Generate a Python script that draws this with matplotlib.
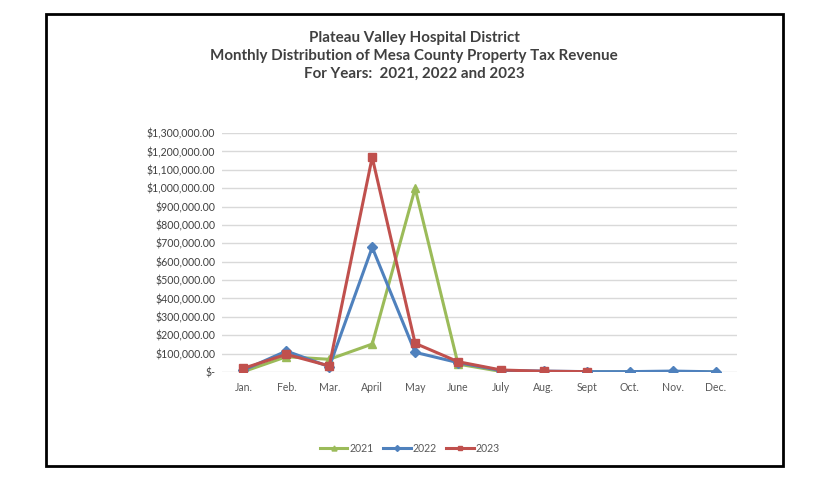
import matplotlib
matplotlib.use("Agg")
import matplotlib.pyplot as plt
from matplotlib.patches import Rectangle
from matplotlib.ticker import FuncFormatter, MultipleLocator

months = ["Jan.", "Feb.", "Mar.", "April", "May", "June", "July", "Aug.", "Sept", "Oct.", "Nov.", "Dec."]
y2021 = [2000, 83000, 69000, 152000, 999000, 43000, 3000, 2000, 1000, 500, 500, 500]
y2022 = [10000, 114000, 29000, 678000, 107000, 51000, 8000, 5000, 2000, 2000, 5000, 1000]
y2023 = [20000, 96000, 33000, 1168000, 156000, 56000, 11000, 4000, 2000]

plt.rcParams['font.family'] = ['Lato', 'DejaVu Sans']
fig = plt.figure(figsize=(8.16, 4.8), dpi=100)
ax = fig.add_axes([222/816, 1-372/480, (737-222)/816, (372-133)/480])

x = list(range(len(months)))
ax.plot(x, y2021, color="#9BBB59", lw=2.2, marker="^", ms=6, label="2021", zorder=3)
ax.plot(x, y2022, color="#4F81BD", lw=2.2, marker="D", ms=5, label="2022", zorder=4)
ax.plot(x[:len(y2023)], y2023, color="#C0504D", lw=2.2, marker="s", ms=6, label="2023", zorder=5)

ax.set_xlim(-0.5, 11.5)
ax.set_ylim(0, 1300000)
ax.yaxis.set_major_locator(MultipleLocator(100000))
ax.yaxis.set_major_formatter(FuncFormatter(lambda v, p: "$-" if v == 0 else "${:,.2f}".format(v)))
ax.set_xticks(x)
ax.set_xticklabels(months)
for s in ax.spines.values():
    s.set_visible(False)
ax.grid(axis='y', color="#D9D9D9", lw=1)
ax.set_axisbelow(True)
ax.tick_params(axis='y', length=0, labelsize=7.6, colors="#404040", pad=5)
ax.tick_params(axis='x', length=0, labelsize=7.6, colors="#595959", pad=7)

title_lines = ["Plateau Valley Hospital District",
               "Monthly Distribution of Mesa County Property Tax Revenue",
               "For Years:  2021, 2022 and 2023"]
for i, line in enumerate(title_lines):
    fig.text(414/816, 1-(38+18*i)/480, line, ha='center', va='center', fontsize=10.9,
             fontweight='bold', color="#404040")

leg = fig.legend(loc='center', bbox_to_anchor=(410/816, 1-448/480), ncol=3, frameon=False,
                 fontsize=7.6, handlelength=2.6, columnspacing=0.9, handletextpad=0.2, markerscale=0.6)
for t in leg.get_texts():
    t.set_color("#595959")

fig.patches.append(Rectangle((46/816, 1-466/480), (783-46)/816, (466-14)/480, transform=fig.transFigure,
                             fill=False, edgecolor='black', lw=2))

fig.savefig("out.png", dpi=100)
